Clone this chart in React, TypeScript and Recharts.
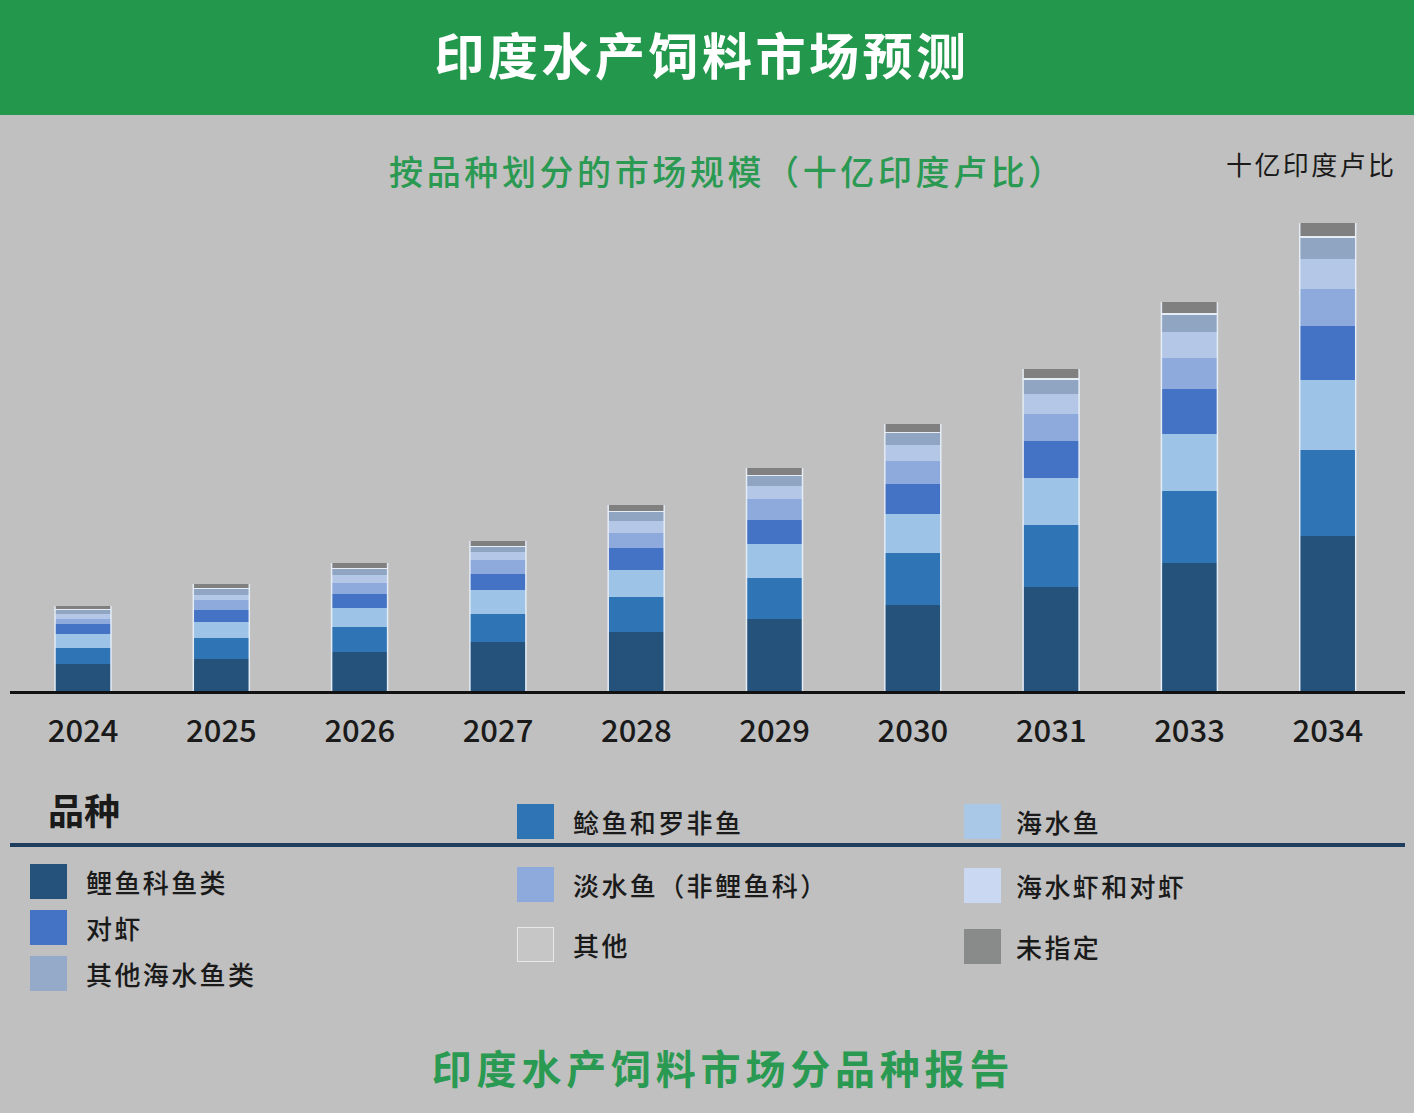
import { BarChart, Bar, XAxis, YAxis } from "recharts";

const years = ["2024", "2025", "2026", "2027", "2028", "2029", "2030", "2031", "2033", "2034"];

// 十亿印度卢比
const carp = [14, 16.5, 20, 25, 30, 36.5, 43.5, 52.5, 64.5, 78];
const catfishTilapia = [8, 10.5, 12.5, 14, 17.5, 20.5, 26, 31, 36, 43];
const marineFish = [7, 8, 9.5, 12, 13.5, 17, 19.5, 23.5, 28.5, 35];
const shrimp = [5, 6, 7, 8, 11, 12, 15, 18.5, 22.5, 27];
const freshwater = [2.5, 5, 5.5, 7, 7.5, 10.5, 11.5, 13.5, 15.5, 18.5];
const prawn = [2.5, 2.5, 4, 4, 6, 6.5, 8, 10, 13, 15];
const otherMarine = [2, 3, 3, 2.5, 4.5, 5, 6, 7, 8.5, 10.5];
const others = [0.5, 0.5, 0.5, 0.5, 0.5, 0.5, 0.5, 1, 1, 1];
const unspecified = [1.5, 2, 2.5, 2.5, 3, 3.5, 4, 4.5, 5.5, 6.5];

const series = [
  { key: "carp", name: "鲤鱼科鱼类", values: carp, color: "#24527b" },
  { key: "catfish", name: "鲶鱼和罗非鱼", values: catfishTilapia, color: "#2f74b5" },
  { key: "marine", name: "海水鱼", values: marineFish, color: "#9dc3e6" },
  { key: "shrimp", name: "对虾", values: shrimp, color: "#4472c4" },
  { key: "fresh", name: "淡水鱼（非鲤鱼科）", values: freshwater, color: "#8eaadc" },
  { key: "prawn", name: "海水虾和对虾", values: prawn, color: "#b4c7e7" },
  { key: "otherMarine", name: "其他海水鱼类", values: otherMarine, color: "#8fa5c2" },
  { key: "others", name: "其他", values: others, color: "#e6edf5" },
  { key: "unspec", name: "未指定", values: unspecified, color: "#808080" },
];

const data = years.map((y, i) => {
  const row: any = { year: y };
  series.forEach((s) => (row[s.key] = s.values[i]));
  return row;
});

const legendCols = [
  [
    { name: "鲤鱼科鱼类", color: "#24527b" },
    { name: "对虾", color: "#4472c4" },
    { name: "其他海水鱼类", color: "#94aac8" },
  ],
  [
    { name: "鲶鱼和罗非鱼", color: "#2f74b5" },
    { name: "淡水鱼（非鲤鱼科）", color: "#8eaadc" },
    { name: "其他", color: "#c6c6c6" },
  ],
  [
    { name: "海水鱼", color: "#a9c8e8" },
    { name: "海水虾和对虾", color: "#cad9f1" },
    { name: "未指定", color: "#898b8b" },
  ],
];

const font = "'Noto Sans CJK SC', 'Noto Sans', sans-serif";

const Segment = (props: any) => {
  const { x, y, width, height, fill } = props;
  if (!height || height <= 0) return null;
  return (
    <g>
      <rect x={x} y={y} width={width} height={height} fill={fill} />
      <line x1={x} x2={x} y1={y} y2={y + height} stroke="#e4ecf6" strokeWidth={1.5} />
      <line x1={x + width} x2={x + width} y1={y} y2={y + height} stroke="#e4ecf6" strokeWidth={1.5} />
    </g>
  );
};

function Swatch({ x, y, gap, color, name }: any) {
  return (
    <div style={{ position: "absolute", left: x, top: y, display: "flex", alignItems: "center" }}>
      <div
        style={{
          width: 37,
          height: 35,
          background: color,
          boxSizing: "border-box",
          border: name === "其他" ? "1px solid #e8e8e8" : "none",
        }}
      />
      <span style={{ marginLeft: gap, fontSize: 26, letterSpacing: 2.4, color: "#1a1a1a", fontWeight: 500 }}>
        {name}
      </span>
    </div>
  );
}

export default function App() {
  const colX = [30, 517, 964];
  const colGap = [19, 19, 15];
  const colY = [
    [863, 909, 955],
    [803, 866, 926],
    [803, 867, 928],
  ];
  return (
    <div
      style={{
        position: "absolute",
        left: 0,
        top: 0,
        width: 1414,
        height: 1113,
        background: "#c0c0c0",
        fontFamily: font,
        overflow: "hidden",
      }}
    >
      <div
        style={{
          position: "absolute",
          left: 0,
          top: 0,
          width: 1414,
          height: 115,
          background: "#23984d",
        }}
      />
      <div
        style={{
          position: "absolute",
          left: 0,
          top: 0,
          width: 1404,
          height: 106,
          color: "#fff",
          fontSize: 50,
          fontWeight: 700,
          textAlign: "center",
          lineHeight: "106px",
          letterSpacing: 3.5,
        }}
      >
        印度水产饲料市场预测
      </div>
      <div
        style={{
          position: "absolute",
          left: 0,
          width: 1455,
          top: 146,
          textAlign: "center",
          fontSize: 34,
          color: "#2a9a52",
          fontWeight: 500,
          letterSpacing: 3.6,
        }}
      >
        按品种划分的市场规模（十亿印度卢比）
      </div>
      <div style={{ position: "absolute", left: 1226, top: 145, fontSize: 26, letterSpacing: 2.4, color: "#1a1a1a" }}>
        十亿印度卢比
      </div>

      <div style={{ position: "absolute", left: 0, top: 0 }}>
        <BarChart
          width={1414}
          height={760}
          data={data}
          margin={{ top: 192, right: 17, left: 14, bottom: 0 }}
          barSize={56}
        >
          <XAxis
            dataKey="year"
            height={68}
            tickLine={false}
            axisLine={false}
            tickMargin={22}
            tick={{ fill: "#1a1a1a", fontSize: 31, fontFamily: font, fontWeight: 500 }}
            interval={0}
          />
          <YAxis hide domain={[0, 250]} />
          {series.map((s) => (
            <Bar
              key={s.key}
              dataKey={s.key}
              name={s.name}
              stackId="a"
              fill={s.color}
              shape={Segment}
              isAnimationActive={false}
            />
          ))}
        </BarChart>
      </div>
      <div style={{ position: "absolute", left: 10, top: 691, width: 1395, height: 3, background: "#111" }} />

      <div style={{ position: "absolute", left: 48, top: 783, fontSize: 36, fontWeight: 700, color: "#1a1a1a" }}>品种</div>
      <div style={{ position: "absolute", left: 10, top: 843, width: 1395, height: 4, background: "#1f3d5c" }} />
      {legendCols.map((col, ci) =>
        col.map((it, ri) => (
          <Swatch key={it.name} x={colX[ci]} y={colY[ci][ri]} gap={colGap[ci]} color={it.color} name={it.name} />
        ))
      )}

      <div
        style={{
          position: "absolute",
          left: 0,
          width: 1446,
          top: 1038,
          textAlign: "center",
          fontSize: 40,
          fontWeight: 700,
          color: "#2a9a52",
          letterSpacing: 4.8,
        }}
      >
        印度水产饲料市场分品种报告
      </div>
    </div>
  );
}
